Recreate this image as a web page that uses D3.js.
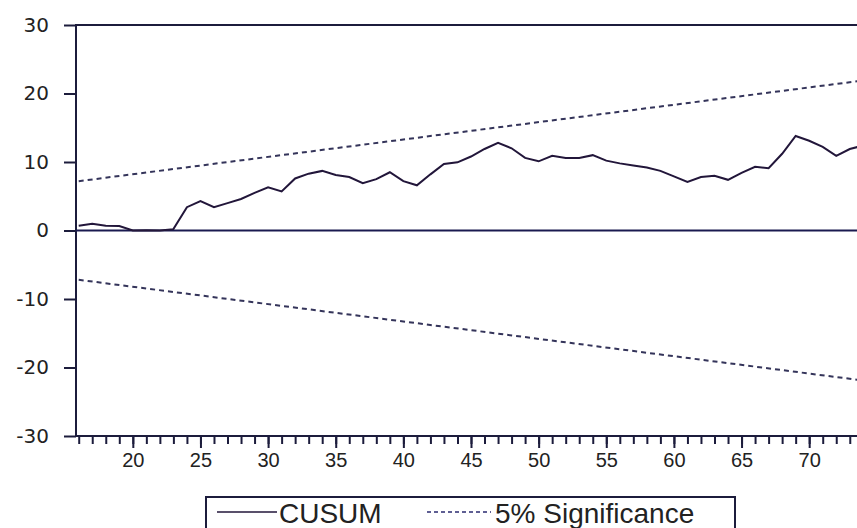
<!DOCTYPE html>
<html>
<head>
<meta charset="utf-8">
<script src="https://cdn.jsdelivr.net/npm/d3@7"></script>
<style>
  body { margin: 0; background: #fff; }
  svg { display: block; font-family: "Liberation Sans", Arial, sans-serif; }
</style>
</head>
<body>
<div id="chart"></div>
<script>
// observation index and CUSUM statistic
var obs = d3.range(16, 75);
var cusum = [0.7, 1.0, 0.7, 0.65, 0.0, 0.05, 0.0, 0.2, 3.4, 4.3,
             3.4, 4.0, 4.6, 5.5, 6.3, 5.7, 7.6, 8.3, 8.7, 8.1,
             7.8, 6.9, 7.5, 8.5, 7.2, 6.6, 8.2, 9.7, 9.95, 10.8,
             11.9, 12.8, 12.0, 10.6, 10.1, 10.9, 10.6, 10.6, 11.0, 10.2,
             9.8, 9.5, 9.2, 8.7, 7.9, 7.1, 7.8, 8.0, 7.4, 8.4,
             9.3, 9.1, 11.2, 13.8, 13.1, 12.2, 10.9, 11.9, 12.4];
// 5% significance bands (straight lines)
var bandObs = [16, 74];
var upper = [7.2, 21.9];
var lower = [-7.2, -21.9];
var yTicks = [-30, -20, -10, 0, 10, 20, 30];
var xTicks = [20, 25, 30, 35, 40, 45, 50, 55, 60, 65, 70];
var legendItems = ["CUSUM", "5% Significance"];

function drawCusum() {
  var W = 857, H = 528;
  var plotL = 76, plotR = 866, plotT = 25, plotB = 436;
  var ink = "#1c1c3c";

  var svg = d3.select("#chart").append("svg")
      .attr("width", W).attr("height", H);
  svg.append("rect").attr("width", W).attr("height", H).attr("fill", "#fff");

  var x = d3.scaleLinear().domain([15.8, 74.2]).range([plotL, plotR]);
  var y = d3.scaleLinear().domain([-30, 30]).range([plotB, plotT]);

  // frame
  svg.append("rect")
      .attr("x", plotL).attr("y", plotT)
      .attr("width", plotR - plotL).attr("height", plotB - plotT)
      .attr("fill", "none").attr("stroke", ink).attr("stroke-width", 2);

  // zero line
  svg.append("line")
      .attr("x1", plotL).attr("x2", plotR)
      .attr("y1", y(0)).attr("y2", y(0))
      .attr("stroke", "#1a1a50").attr("stroke-width", 2);

  // y axis (plain hyphen for negatives, like the original)
  var yAxis = svg.append("g")
      .attr("transform", "translate(" + plotL + ",0)")
      .call(d3.axisLeft(y).tickValues(yTicks).tickSize(12).tickPadding(15)
          .tickFormat(function(d) { return String(d); }));
  yAxis.select(".domain").remove();
  yAxis.selectAll("line").attr("stroke", ink).attr("stroke-width", 2);
  yAxis.selectAll("text").attr("font-size", 20).attr("fill", "#222")
      .attr("font-family", "DejaVu Sans, Verdana, sans-serif");

  // x axis: minor ticks every observation
  var xMinor = svg.append("g")
      .attr("transform", "translate(0," + plotB + ")")
      .call(d3.axisBottom(x).tickValues(obs).tickSize(8).tickFormat(""));
  xMinor.select(".domain").remove();
  xMinor.selectAll("line").attr("stroke", ink).attr("stroke-width", 2);

  var xAxis = svg.append("g")
      .attr("transform", "translate(0," + plotB + ")")
      .call(d3.axisBottom(x).tickValues(xTicks).tickSize(12).tickPadding(5));
  xAxis.select(".domain").remove();
  xAxis.selectAll("line").attr("stroke", ink).attr("stroke-width", 2);
  xAxis.selectAll("text").attr("font-size", 20).attr("fill", "#222")
      .attr("font-family", "Liberation Sans, Arial, sans-serif");

  // significance bands
  var bandLine = d3.line().x(function(d, i) { return x(bandObs[i]); })
      .y(function(d) { return y(d); });
  [upper, lower].forEach(function(b) {
    svg.append("path")
        .datum(b)
        .attr("d", bandLine)
        .attr("fill", "none")
        .attr("stroke", "#34345a")
        .attr("stroke-width", 2)
        .attr("stroke-dasharray", "5,4");
  });

  // CUSUM line
  var cusumLine = d3.line().x(function(d, i) { return x(obs[i]); })
      .y(function(d) { return y(d); });
  svg.append("path")
      .datum(cusum)
      .attr("d", cusumLine)
      .attr("fill", "none")
      .attr("stroke", "#22163a")
      .attr("stroke-width", 2);

  // legend
  var lg = svg.append("g");
  lg.append("rect")
      .attr("x", 206).attr("y", 497).attr("width", 529).attr("height", 45)
      .attr("fill", "#fff").attr("stroke", ink).attr("stroke-width", 2);
  lg.append("line")
      .attr("x1", 217).attr("x2", 277).attr("y1", 512).attr("y2", 512)
      .attr("stroke", "#22163a").attr("stroke-width", 1.5);
  lg.append("text")
      .attr("x", 279).attr("y", 523)
      .attr("font-size", 28).attr("fill", "#222")
      .text(legendItems[0]);
  lg.append("line")
      .attr("x1", 427).attr("x2", 491).attr("y1", 512).attr("y2", 512)
      .attr("stroke", "#2a2a70").attr("stroke-width", 1.5)
      .attr("stroke-dasharray", "4,3");
  lg.append("text")
      .attr("x", 495).attr("y", 523)
      .attr("font-size", 28).attr("fill", "#222")
      .text(legendItems[1]);
}

drawCusum();
</script>
</body>
</html>
